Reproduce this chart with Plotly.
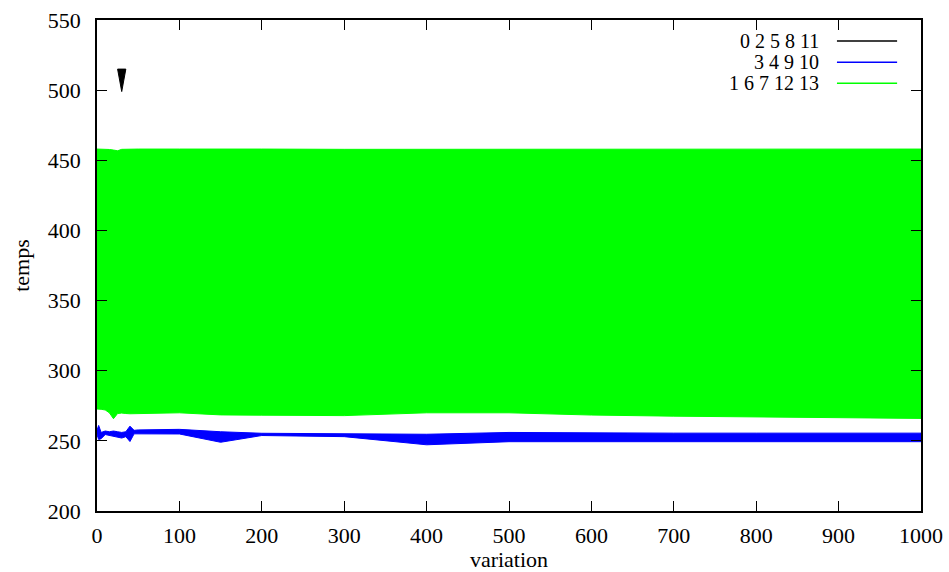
import plotly.graph_objects as go

# ---- data ----
series_names = ["0 2 5 8 11", "3 4 9 10", "1 6 7 12 13"]
series_colors = ["#000000", "#0000ff", "#00ff00"]

black_x = [25, 30, 35]
black_upper = [515, 515, 515]
black_lower = [515, 499, 515]

x_vals = [0, 2, 5, 10, 15, 20, 25, 30, 35, 40, 45, 50, 100, 150, 200, 300,
          400, 500, 600, 700, 800, 900, 1000]

blue_upper = [257.5, 261.0, 256.0, 257.0, 256.5, 257.0, 256.5, 256.0, 256.5,
              260.5, 257.5, 257.8, 258.2, 256.5, 255.4, 255.3, 254.7, 256.0,
              255.5, 255.5, 255.5, 255.5, 255.5]
blue_lower = [254.5, 251.0, 251.5, 254.5, 254.0, 253.5, 252.5, 252.0, 253.0,
              249.5, 255.0, 255.3, 254.9, 249.0, 253.8, 253.0, 247.2, 249.4,
              249.5, 249.5, 249.5, 249.5, 249.4]

green_upper = [458.0, 458.0, 457.9, 457.9, 457.7, 457.3, 456.8, 457.8, 457.9,
               458.0, 458.0, 458.0, 458.0, 457.8, 458.0, 457.8, 457.8, 458.0,
               458.0, 458.0, 458.0, 458.0, 458.0]
green_lower = [272.7, 272.6, 272.5, 272.0, 270.0, 265.8, 269.5, 269.8, 269.5,
               269.3, 269.2, 269.0, 270.0, 268.5, 268.3, 268.0, 270.0, 270.0,
               268.4, 267.6, 266.9, 266.4, 266.0]

x_ticks = list(range(0, 1001, 100))
y_ticks = list(range(200, 551, 50))

FONT = "Liberation Serif, DejaVu Serif, Times New Roman, serif"
FS = 22
LEG_FS = 20

fig = go.Figure()

bands = [
    (black_x, black_upper, black_lower),
    (x_vals, blue_upper, blue_lower),
    (x_vals, green_upper, green_lower),
]
for (xs, up, lo), name, col in zip(bands, series_names, series_colors):
    fig.add_trace(go.Scatter(
        x=list(xs) + list(xs)[::-1],
        y=list(up) + list(lo)[::-1],
        fill="toself", fillcolor=col,
        line=dict(color=col, width=1),
        mode="lines", name=name, showlegend=False, hoverinfo="skip",
    ))

# manual gnuplot-style legend (text right-aligned, sample line on the right)
row_y = [0.957, 0.914, 0.871]
for name, col, yy in zip(series_names, series_colors, row_y):
    fig.add_annotation(x=0.879, y=yy, xref="paper", yref="paper",
                       text=name, showarrow=False, xanchor="right",
                       yanchor="middle",
                       font=dict(family=FONT, size=LEG_FS, color="black"))
    fig.add_shape(type="line", xref="paper", yref="paper",
                  x0=0.898, x1=0.971, y0=yy, y1=yy,
                  line=dict(color=col, width=1.5))

axis_common = dict(
    showgrid=False, zeroline=False, showline=True, linecolor="black",
    linewidth=1.5, mirror="allticks", ticks="inside", ticklen=10,
    tickwidth=1, tickcolor="black", automargin=False,
    tickfont=dict(family=FONT, size=FS, color="black"),
)

fig.update_xaxes(range=[0, 1000], tickvals=x_ticks, ticklabelstandoff=4,
                 title=dict(text="variation", standoff=2,
                            font=dict(family=FONT, size=FS, color="black")),
                 **axis_common)
fig.update_yaxes(range=[200, 550], tickvals=y_ticks, ticklabelstandoff=10,
                 title=dict(text="temps", standoff=12,
                            font=dict(family=FONT, size=FS, color="black")),
                 **axis_common)

fig.update_layout(
    width=949, height=572,
    margin=dict(l=97, r=28, t=20, b=61, autoexpand=False),
    plot_bgcolor="white", paper_bgcolor="white",
    showlegend=False,
)

fig.write_html("out.html")
